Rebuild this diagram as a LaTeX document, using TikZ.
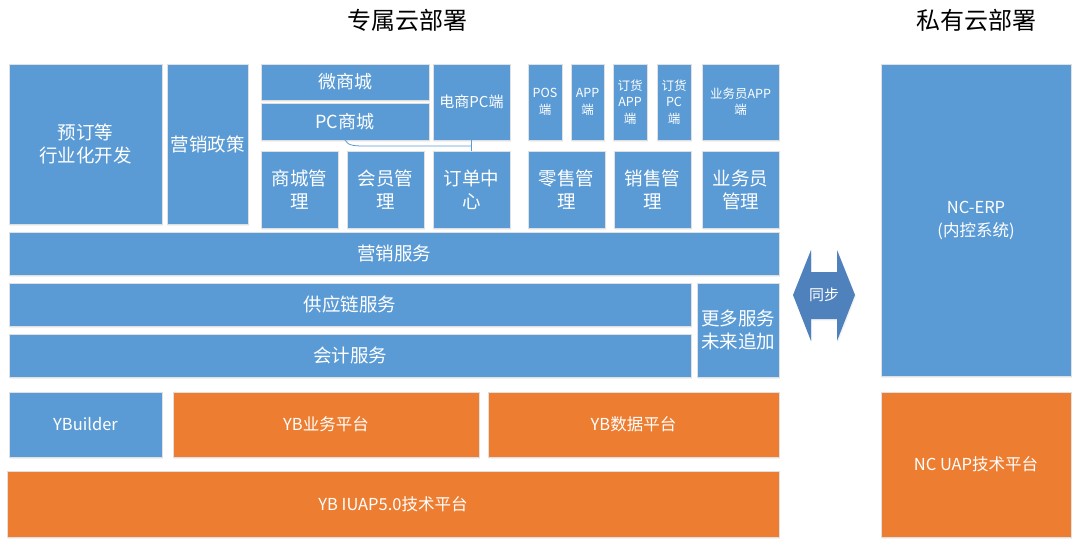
\documentclass[tikz,border=0pt]{standalone}
\usepackage{fontspec}
\setmainfont{Noto Sans CJK SC}
\usetikzlibrary{calc,shadows}
\definecolor{bblue}{HTML}{5B9BD5}
\definecolor{borange}{HTML}{ED7D31}
\definecolor{adark}{HTML}{4F81BD}
\tikzset{
  blk/.style={fill=bblue, draw=black!12, line width=0.5pt, text=white, align=center,
    inner sep=0pt, outer sep=0pt, font=\fontsize{18.5}{23}\selectfont,
    drop shadow={opacity=0.10, shadow xshift=1pt, shadow yshift=-1.5pt}},
  mid/.style={blk, font=\fontsize{18}{22}\selectfont},
  sml/.style={blk, font=\fontsize{12.5}{16.5}\selectfont},
  ecs/.style={blk, font=\fontsize{15}{18}\selectfont},
  plat/.style={blk, font=\fontsize{16.5}{23}\selectfont},
  org/.style={plat, fill=borange},
  ttl/.style={text=black, font=\fontsize{24}{28}\selectfont, inner sep=0pt},
  link/.style={draw=bblue, line width=0.8pt},
}
\newcommand\mybox[7]{\node[#1, minimum width=#4pt-#2pt, minimum height=#5pt-#3pt] (#6) at ({(#2+#4)/2},{(#3+#5)/2}) {#7};}
\begin{document}
\begin{tikzpicture}[x=1pt,y=-1pt]
\useasboundingbox[fill=white] (0,0) rectangle (1080,547);
% titles
\node[ttl] (t1) at (407,20) {专属云部署};
\node[ttl] (t2) at (976,20) {私有云部署};
% top-left
\mybox{blk}{9}{64}{162}{224}{industry}{预订等\\行业化开发}
\mybox{blk}{167}{64}{248}{224}{policy}{营销政策}
% e-commerce
\mybox{mid}{261}{64}{429}{100}{wmall}{微商城}
\mybox{mid}{261}{103}{429}{140}{pcmall}{PC商城}
\mybox{ecs}{433}{64}{510}{140}{ecpc}{电商PC端}
\mybox{blk}{261}{151}{338}{228}{mallmgr}{商城管\\理}
\mybox{blk}{347}{151}{424}{228}{membermgr}{会员管\\理}
\mybox{blk}{433}{151}{510}{228}{order}{订单中\\心}
% terminals
\mybox{sml}{528}{64}{562}{140}{pos}{POS\\端}
\mybox{sml}{571}{64}{604}{140}{app}{APP\\端}
\mybox{sml}{613}{64}{647}{140}{ordapp}{订货\\APP\\端}
\mybox{sml}{657}{64}{691}{140}{ordpc}{订货\\PC\\端}
\mybox{sml}{702}{64}{779}{140}{salesapp}{业务员APP\\端}
\mybox{blk}{528}{151}{605}{228}{retail}{零售管\\理}
\mybox{blk}{614}{151}{691}{228}{salesmgr}{销售管\\理}
\mybox{blk}{702}{151}{779}{228}{staffmgr}{业务员\\管理}
% services
\mybox{blk}{9}{232}{779}{275}{mkt}{营销服务}
\mybox{blk}{9}{283}{691}{326}{scm}{供应链服务}
\mybox{blk}{9}{334}{691}{377}{acct}{会计服务}
\mybox{blk}{697}{283}{779}{377}{more}{更多服务\\未来追加}
% platforms
\mybox{plat}{9}{392}{162}{457}{ybuilder}{YBuilder}
\mybox{org}{173}{392}{479}{457}{ybbiz}{YB业务平台}
\mybox{org}{488}{392}{779}{457}{ybdata}{YB数据平台}
\mybox{org}{7}{471}{779}{537}{iuap}{YB IUAP5.0技术平台}
% private cloud
\mybox{plat}{881}{64}{1071}{376}{ncerp}{NC-ERP\\(内控系统)}
\mybox{org}{881}{392}{1071}{537}{ncuap}{NC UAP技术平台}
% link between PC mall / e-commerce PC and order center
\coordinate (lk1) at ($(pcmall.south west)+(84,0)$);
\coordinate (lk2) at ($(ecpc.south)+(0,6)$);
\draw[link] (lk1) .. controls ($(lk1)+(3,6)$) and ($(lk1)+(10,6)$) .. ($(lk1)+(22,6)$) -- (lk2);
\draw[link] (ecpc.south) -- (order.north);
% sync arrow
\fill[adark, drop shadow={opacity=0.10, shadow xshift=1pt, shadow yshift=-1.5pt}]
  (793,295) -- (811,250) -- (811,272) -- (837,272) -- (837,250) -- (855,295)
  -- (837,341) -- (837,319) -- (811,319) -- (811,341) -- cycle;
\node[text=white, font=\fontsize{15}{17}\selectfont, inner sep=0pt] (sync) at (824,295) {同步};
\end{tikzpicture}
\end{document}
